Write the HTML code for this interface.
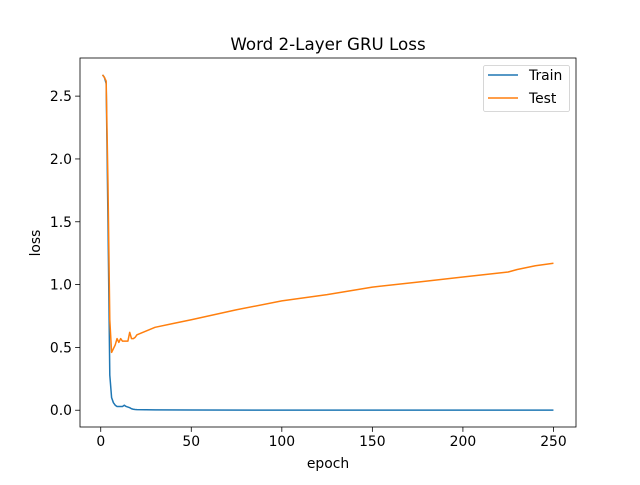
<!DOCTYPE html>
<html><head><meta charset="utf-8"><style>
body{margin:0;background:#fff}
svg text{font-family:"DejaVu Sans","Liberation Sans",sans-serif;fill:#000}
</style></head><body>
<svg id="c" width="640" height="480"></svg>
<script>
const trainEpochs=[1,2,3,4,5,6,7,8,9,10,11,12,13,14,15,16,17,18,19,20,25,30,50,100,150,200,250];
const trainLoss=[2.67,2.65,2.6,1.5,0.28,0.1,0.06,0.04,0.03,0.03,0.03,0.03,0.04,0.03,0.025,0.02,0.012,0.008,0.006,0.005,0.004,0.003,0.002,0.001,0.001,0.001,0.001];
const testEpochs=[1,2,3,4,5,6,7,8,9,10,11,12,13,14,15,16,17,18,19,20,25,30,40,50,75,100,125,150,175,200,225,230,240,250];
const testLoss=[2.67,2.65,2.62,1.8,0.72,0.46,0.49,0.52,0.57,0.54,0.57,0.55,0.55,0.55,0.55,0.62,0.57,0.57,0.58,0.6,0.63,0.66,0.69,0.72,0.8,0.87,0.92,0.98,1.02,1.06,1.1,1.12,1.15,1.17];
const xTicks=[0,50,100,150,200,250];
const yTicks=[0.0,0.5,1.0,1.5,2.0,2.5];
const L=80,R=576,T=58,B=427;
const x0=-11.45,x1=262.45,y0=-0.1335,y1=2.8035;
const sx=v=>L+(v-x0)/(x1-x0)*(R-L);
const sy=v=>B-(v-y0)/(y1-y0)*(B-T);
const svg=document.getElementById('c');
const NS='http://www.w3.org/2000/svg';
function mk(tag,attrs,parent){const e=document.createElementNS(NS,tag);for(const k in attrs)e.setAttribute(k,attrs[k]);(parent||svg).appendChild(e);return e;}
let t=mk('text',{x:328,y:50,'text-anchor':'middle','font-size':16.7});t.textContent='Word 2-Layer GRU Loss';


function line(xs,ys,color,name){
 const d=xs.map((e,i)=>(i?'L':'M')+sx(e).toFixed(2)+','+sy(ys[i]).toFixed(2)).join('');
 const p=mk('path',{d:d,fill:'none',stroke:color,'stroke-width':1.5,'stroke-linejoin':'round'});
 
 
}
line(trainEpochs,trainLoss,'#1f77b4','train-line');
line(testEpochs,testLoss,'#ff7f0e','test-line');
const fr=mk('rect',{x:L,y:T,width:R-L,height:B-T,fill:'none',stroke:'#000','stroke-width':0.8});


xTicks.forEach(v=>{const X=sx(v);mk('line',{x1:X,x2:X,y1:B,y2:B+4.9,stroke:'#000','stroke-width':0.8});
 const tt=mk('text',{x:X,y:B+19,'text-anchor':'middle','font-size':13.9});tt.textContent=v;
 
 });
yTicks.forEach(v=>{const Y=sy(v);mk('line',{x1:L-4.9,x2:L,y1:Y,y2:Y,stroke:'#000','stroke-width':0.8});
 const tt=mk('text',{x:L-8,y:Y+5,'text-anchor':'end','font-size':13.9});tt.textContent=v.toFixed(1);
 
 });
t=mk('text',{x:328,y:468,'text-anchor':'middle','font-size':13.9});t.textContent='epoch';


t=mk('text',{x:0,y:0,'text-anchor':'middle','font-size':13.9,transform:'translate(40,243) rotate(-90)'});t.textContent='loss';


const lg=mk('g',{});


mk('rect',{x:483.5,y:65.5,width:86,height:46,rx:2,fill:'#fff',stroke:'#ccc','stroke-width':0.8},lg);
[['Train','#1f77b4',75],['Test','#ff7f0e',98]].forEach(([n,c,y])=>{
 mk('line',{x1:488,x2:518,y1:y,y2:y,stroke:c,'stroke-width':1.5},lg);
 const tt=mk('text',{x:529,y:y+5,'font-size':13.9},lg);tt.textContent=n;
 
 
});
</script>
</body></html>
